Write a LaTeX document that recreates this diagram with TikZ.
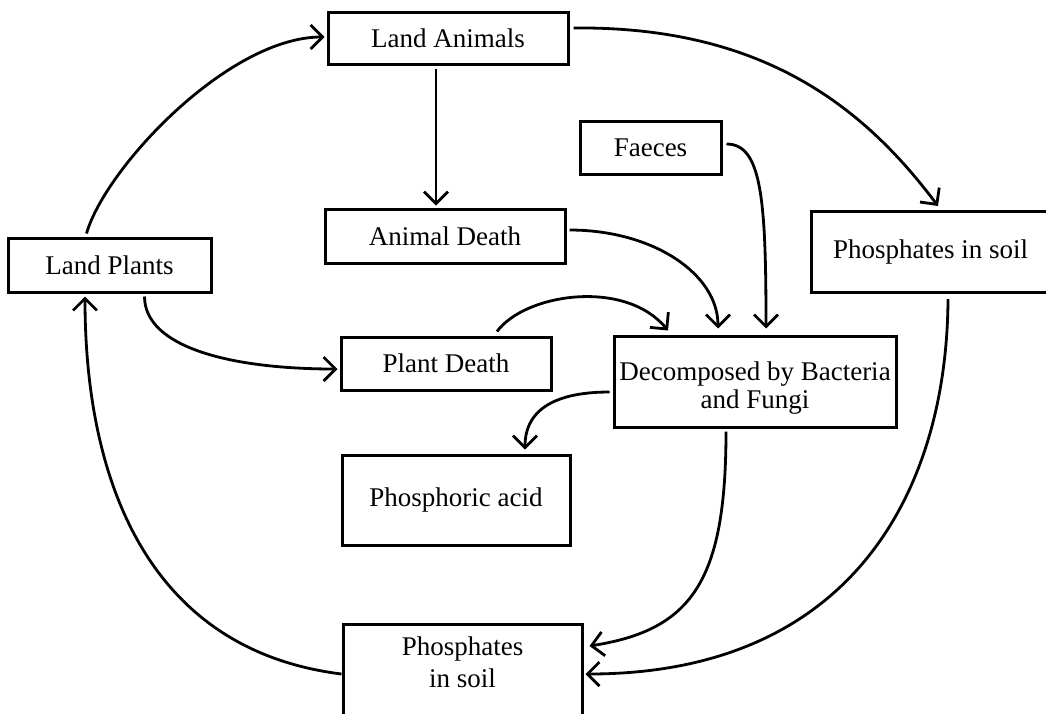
\documentclass[tikz,border=0pt]{standalone}
\usepackage{fontspec}
\setmainfont{Liberation Serif}
\usetikzlibrary{arrows.meta}
\begin{document}
\begin{tikzpicture}[x=1pt,y=-1pt,
  box/.style={draw, line width=3pt, inner sep=0pt, align=center,
    font=\fontsize{27pt}{28pt}\selectfont},
  link/.style={line width=2.8pt, -{Straight Barb[length=12pt,width=24pt]}}]
\useasboundingbox (0,0) rectangle (1046,713);
\clip (0,0) rectangle (1046,713);
\fill[white] (0,0) rectangle (1046,713);

% boxes
\node[box, minimum width=240pt, minimum height=52pt] (la) at (448,38) {Land Animals};
\node[box, minimum width=203pt, minimum height=54pt] (lp) at (109.5,265) {Land Plants};
\node[box, minimum width=240pt, minimum height=54pt] (ad) at (445,236) {Animal Death};
\node[box, minimum width=141pt, minimum height=53pt] (fa) at (650.5,147.5) {Faeces};
\node[box, minimum width=239pt, minimum height=81pt] (pr) at (930.5,251.5) {Phosphates in soil};
\node[box, minimum width=210pt, minimum height=53pt] (pd) at (446,363.5) {Plant Death};
\node[box, minimum width=282pt, minimum height=91pt] (dec) at (755,381.5) {\rule{0pt}{31pt}Decomposed by Bacteria\\[0pt]and Fungi};
\node[box, minimum width=228pt, minimum height=90pt] (pa) at (456,500) {Phosphoric acid};
\node[box, minimum width=239pt, minimum height=92pt, text depth=16pt] (psb) at (462.5,670) {Phosphates\\[4pt]in soil};

% connectors
\draw[link] ([shift={(-23,-3)}]lp.north) .. controls +(19,-66) and +(-96,0) .. ([shift={(-2,-1)}]la.west);
\draw[link] ([shift={(-12,3)}]la.south) -- ([shift={(-9,-2)}]ad.north);
\draw[link] ([shift={(4,-10)}]la.east) .. controls +(188,-2) and +(-75,-100) .. ([shift={(7.5,-3.5)}]pr.north);
\draw[link] ([shift={(3,-6)}]ad.east) .. controls +(83,0) and +(0,-55) .. ([shift={(-37,-6)}]dec.north);
\draw[link] ([shift={(4,-3.5)}]fa.east) .. controls +(35,0) and +(0,-130) .. ([shift={(11,-6)}]dec.north);
\draw[link] ([shift={(35,3)}]lp.south) .. controls +(0,50) and +(-109,0) .. ([shift={(-2,5.5)}]pd.west);
\draw[link] ([shift={(51,-4)}]pd.north) .. controls +(28,-38) and +(-43,-52) .. ([shift={(-87,-4)}]dec.north);
\draw[link] ([shift={(-3,10.5)}]dec.west) .. controls +(-51,0) and +(0,-42) .. ([shift={(69,-4)}]pa.north);
\draw[link] ([shift={(-29,3)}]dec.south) .. controls +(0,150) and +(102,-16) .. ([shift={(6,-24)}]psb.east);
\draw[link] ([shift={(17.5,5.5)}]pr.south) .. controls +(-1,192.5) and +(266,0) .. ([shift={(2,4)}]psb.east);
\draw[link] ([shift={(0,4)}]psb.west) .. controls +(-193,-24) and +(0,185) .. ([shift={(-24.5,3)}]lp.south);
\end{tikzpicture}
\end{document}
